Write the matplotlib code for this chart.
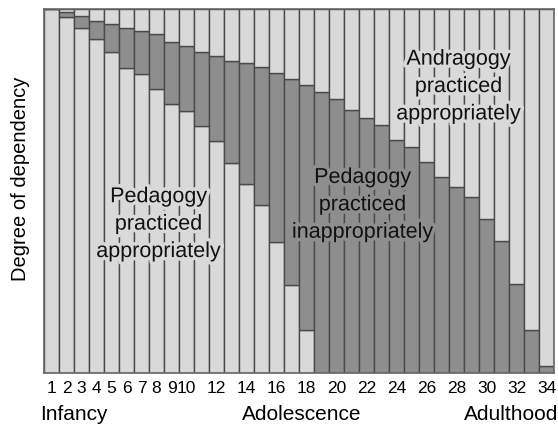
import matplotlib.pyplot as plt
import matplotlib.patheffects as pe

plt.rcParams['font.family'] = ['Liberation Sans', 'DejaVu Sans']

# Etapas (columnas 1..34)
etapas = list(range(1, 35))
# Limite superior de la zona oscura (grado de dependencia, 0-100)
limite_sup = [100, 99.3, 98.2, 96.8, 95.9, 94.9, 94.0, 93.1, 90.9, 89.9,
              88.3, 87.1, 85.8, 85.1, 84.0, 82.3, 80.8, 79.1, 77.3, 75.2,
              72.3, 70.0, 68.1, 64.0, 62.2, 57.9, 53.9, 51.2, 48.4, 42.2,
              36.3, 24.4, 11.8, 1.9]
# Limite inferior de la zona oscura
limite_inf = [100, 97.9, 94.9, 91.7, 88.1, 83.9, 82.1, 77.9, 73.9, 72.1,
              67.9, 63.8, 57.8, 51.9, 46.2, 36.1, 24.2, 11.8, 0, 0,
              0, 0, 0, 0, 0, 0, 0, 0, 0, 0,
              0, 0, 0, 0]

tick_pos = list(range(1, 11)) + list(range(12, 35, 2))
tick_lab = [str(v) for v in tick_pos]

claro = "#d9d9d9"
oscuro = "#8e8e8e"
borde = "#4a4a4a"

fig = plt.figure(figsize=(5.58, 4.26), dpi=100)
ax = fig.add_axes([44/558, 53/426, 510/558, 364/426])

oscura = [s - i for s, i in zip(limite_sup, limite_inf)]
arriba = [100 - s for s in limite_sup]
kw = dict(width=1.0, edgecolor=borde, linewidth=1.0)
ax.bar(etapas, limite_inf, color=claro, **kw)
ax.bar(etapas, oscura, bottom=limite_inf, color=oscuro, **kw)
ax.bar(etapas, arriba, bottom=limite_sup, color=claro, **kw)

ax.set_xlim(0.5, 34.5)
ax.set_ylim(0, 100)
ax.set_yticks([])
ax.set_xticks(tick_pos)
ax.set_xticklabels(tick_lab, fontsize=12.5)
ax.tick_params(axis='x', length=0, pad=6)
for s in ax.spines.values():
    s.set_color("#666666")
    s.set_linewidth(1.2)

ax.set_ylabel("Degree of dependency", fontsize=14.5)
ax.yaxis.set_label_coords(-0.027, 0.533)

halo_claro = [pe.withStroke(linewidth=5, foreground=claro)]
halo_oscuro = [pe.withStroke(linewidth=5, foreground=oscuro)]
txt = dict(ha="center", va="center", fontsize=15.5, linespacing=1.4, color="#111111")
ax.text(8.13, 40.9, "Pedagogy\npracticed\nappropriately", path_effects=halo_claro, **txt)
ax.text(21.73, 46.2, "Pedagogy\npracticed\ninappropriately", path_effects=halo_oscuro, **txt)
ax.text(28.13, 78.7, "Andragogy\npracticed\nappropriately", path_effects=halo_claro, **txt)

fig.text(40/558, 11/426, "Infancy", ha="left", va="center", fontsize=15)
fig.text(301.5/558, 11/426, "Adolescence", ha="center", va="center", fontsize=15)
fig.text(558/558, 11/426, "Adulthood", ha="right", va="center", fontsize=15)

fig.savefig("out.png", dpi=100)
